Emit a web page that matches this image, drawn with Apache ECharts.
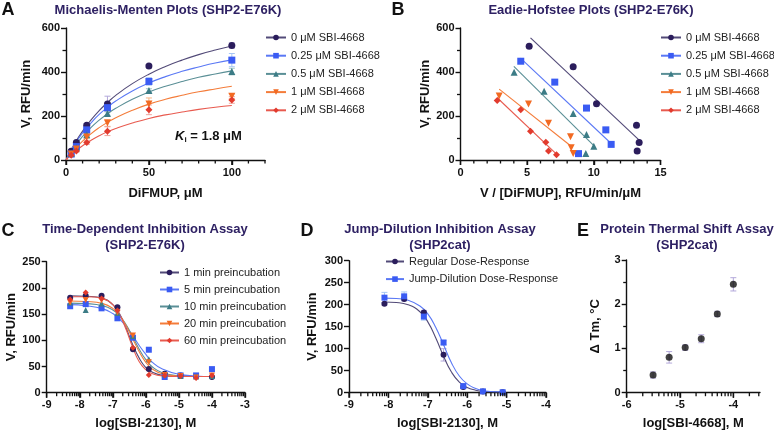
<!DOCTYPE html>
<html><head><meta charset="utf-8">
<script src="https://cdn.jsdelivr.net/npm/echarts@6/dist/echarts.min.js"></script>
<style>html,body{margin:0;padding:0;background:#fff}#c{width:774px;height:433px}</style>
</head><body><div id="c"></div><script>
// ---------- DATA ----------
// Panel A: Michaelis-Menten
const mmConc = [3.125, 6.25, 12.5, 25, 50, 100];
const mm0   = [40, 80, 158, 255, 427, 521];
const mm025 = [27, 61, 137, 238, 357, 454];
const mm05  = [30, 56, 115, 211, 316, 402];
const mm1   = [27, 50, 105, 168, 255, 290];
const mm2   = [22, 41, 79, 131, 228, 273];
const mm0Err   = [4, 5, 7, 35, 6, 12];
const mm025Err = [4, 5, 6, 12, 17, 30];
const mm05Err  = [3, 4, 6, 8, 8, 15];
const mm1Err   = [3, 4, 8, 15, 27, 10];
const mm2Err   = [3, 5, 8, 20, 22, 15];
const mmFitX = [0, 2, 5, 10, 15, 20, 25, 30, 40, 50, 60, 70, 80, 90, 100];
const mmFit0   = [0, 30, 72, 131, 181, 224, 261, 294, 347, 390, 425, 454, 479, 500, 518];
const mmFit025 = [0, 29, 68, 123, 168, 207, 239, 268, 314, 350, 379, 403, 423, 441, 455];
const mmFit05  = [0, 25, 59, 107, 147, 181, 210, 235, 276, 309, 335, 357, 376, 391, 405];
const mmFit1   = [0, 20, 47, 86, 119, 147, 171, 192, 226, 254, 276, 294, 310, 323, 335];
const mmFit2   = [0, 15, 36, 65, 89, 110, 128, 143, 168, 189, 205, 218, 230, 240, 248];
const inhibLabels = ['0 μM SBI-4668', '0.25 μM SBI-4668', '0.5 μM SBI-4668', '1 μM SBI-4668', '2 μM SBI-4668'];
const mmTicksMajor = [0, 50, 100];
const mmTicksMinor = [10, 20, 30, 40, 60, 70, 80, 90, 110, 120];

// Panel B: Eadie-Hofstee
const ehX0   = [5.15, 8.45, 10.2, 13.2, 13.4, 13.25];
const ehY0   = [517, 424, 256, 158, 80, 41];
const ehX025 = [4.52, 7.07, 9.45, 10.9, 11.3, 8.85];
const ehY025 = [449, 354, 236, 137, 71, 29];
const ehX05  = [4.02, 6.27, 8.45, 9.45, 10.0, 9.4];
const ehY05  = [399, 313, 211, 116, 63, 29];
const ehX1   = [2.9, 5.1, 6.6, 8.25, 8.3, 8.45];
const ehY1   = [291, 255, 167, 106, 56, 30];
const ehX2   = [2.75, 4.52, 5.25, 6.4, 6.6, 7.2];
const ehY2   = [270, 228, 131, 81, 41, 24];
const ehFitX0 = [5.25, 13.4],  ehFitY0 = [555, 90];
const ehFitX025 = [4.5, 11.3], ehFitY025 = [463, 75];
const ehFitX05 = [4.0, 10.0],  ehFitY05 = [426, 65];
const ehFitX1 = [2.9, 8.35],   ehFitY1 = [322, 60];
const ehFitX2 = [2.75, 7.2],   ehFitY2 = [283, 27];
const ehTicksMajor = [0, 5, 10, 15];

// Panel C: time-dependent inhibition
const cLogConc = [-8.29, -7.82, -7.34, -6.86, -6.39, -5.91, -5.43, -4.95, -4.48, -4.0];
const c1  = [181, 185, 185, 163, 83, 45, 36, 33, 32, 30];
const c5  = [165, 169, 161, 142, 105, 82, 30, 33, 33, 45];
const c10 = [172, 158, 170, 152, 108, 64, 35, 32, 31, 32];
const c20 = [172, 177, 176, 153, 109, 58, 34, 32, 29, 33];
const c60 = [178, 191, 180, 157, 86, 34, 33, 32, 28, 33];
const cFitX = [-8.3, -7.8, -7.3, -7.0, -6.8, -6.6, -6.4, -6.2, -6.0, -5.8, -5.5, -5.0, -4.5, -4.0];
const cFit1  = [185, 184, 180, 168, 151, 124, 92, 66, 48, 39, 33, 31, 31, 31];
const cFit5  = [168, 166, 160, 151, 141, 126, 109, 90, 73, 58, 45, 35, 32, 31];
const cFit10 = [171, 170, 166, 158, 147, 130, 107, 83, 63, 49, 38, 32, 31, 31];
const cFit20 = [175, 174, 170, 161, 148, 128, 103, 78, 58, 45, 36, 32, 31, 31];
const cFit60 = [183, 183, 179, 168, 150, 121, 87, 59, 44, 36, 32, 31, 31, 31];
const cLabels = ['1 min preincubation', '5 min preincubation', '10 min preincubation', '20 min preincubation', '60 min preincubation'];
const cTicksMajor = [-9, -8, -7, -6, -5, -4, -3];

// Panel D: jump dilution
const dLogConc = [-8.1, -7.6, -7.1, -6.6, -6.1, -5.6, -5.1];
const dReg  = [202, 213, 182, 86, 13, 3, 1];
const dJump = [216, 219, 173, 114, 15, 3, 1];
const dRegErr  = [3, 4, 5, 14, 4, 2, 1];
const dJumpErr = [12, 10, 8, 5, 4, 2, 1];
const dFitX = [-8.1, -7.8, -7.5, -7.2, -7.0, -6.8, -6.6, -6.4, -6.2, -6.0, -5.8, -5.6, -5.3, -5.1];
const dFitReg  = [206, 205, 200, 184, 161, 125, 83, 47, 24, 12, 6, 3, 2, 1];
const dFitJump = [215, 214, 210, 197, 179, 149, 109, 68, 38, 20, 10, 5, 2, 2];
const dLabels = ['Regular Dose-Response', 'Jump-Dilution Dose-Response'];
const dTicksMajor = [-9, -8, -7, -6, -5, -4];

// Panel E: thermal shift
const eLogConc = [-5.505, -5.204, -4.903, -4.602, -4.301, -4.0];
const eDTm = [0.40, 0.80, 1.02, 1.22, 1.78, 2.45];
const eErr = [0.07, 0.13, 0.06, 0.09, 0.06, 0.15];
const eTicksMajor = [-6, -5, -4];

// ---------- STYLE ----------
const FONT = "'Liberation Sans', Arial, sans-serif";
const TITLE_COLOR = '#2e2163';
const COLS = ['#2b1d5c', '#3a5bf3', '#3c7c86', '#f26a22', '#e23b2e'];
const LINE_COLS = ['#524a78', '#5a78f5', '#5a8f96', '#f47c3a', '#e85a4f'];
const ERR_COLS = ['#b3a8da', '#a6c6f5', '#9fc5c7', '#f5b483', '#f0a39b'];
const SYMS = ['circle', 'rect', 'triangle', 'path://M0,0 L10,0 L5,9 Z', 'diamond'];

// log-decade minor tick positions (log10 of 2..9 within each decade)
function logMinor(a, b) {
  const out = [];
  for (let d = Math.floor(a); d < b; d++) for (let k = 2; k <= 9; k++) {
    const v = d + Math.log10(k); if (v > a && v <= b + 1e-9) out.push(v);
  }
  return out;
}
function linMinor(a, b, step, majorStep) {
  const out = [];
  for (let v = a; v <= b + 1e-9; v += step) { const r = +v.toFixed(6); if (Math.abs(r / majorStep - Math.round(r / majorStep)) > 1e-6) out.push(r); }
  return out;
}

const axisLine = { show: true, onZero: false, lineStyle: { color: '#111', width: 1.4 } };
const labelStyle = { fontFamily: FONT, fontWeight: 'bold', fontSize: 11, color: '#111' };
const nameStyle = { fontFamily: FONT, fontWeight: 'bold', fontSize: 13, color: '#111' };

function xAx(grid, min, max, majors, name, gap) {
  return { type: 'value', gridIndex: grid, position: 'bottom', min, max, name, nameLocation: 'middle', nameGap: gap, nameTextStyle: nameStyle,
    axisLine, splitLine: { show: false },
    axisTick: { show: true, length: 5, customValues: majors, lineStyle: { color: '#111', width: 1.4 } },
    axisLabel: Object.assign({ customValues: majors, margin: 7, formatter: v => String(v) }, labelStyle) };
}
function yAx(grid, min, max, interval, minorSplit, name, gap) {
  return { type: 'value', gridIndex: grid, position: 'left', min, max, interval, name, nameLocation: 'middle', nameGap: gap, nameTextStyle: nameStyle,
    axisLine, splitLine: { show: false },
    axisTick: { show: true, length: 5, lineStyle: { color: '#111', width: 1.4 } },
    minorTick: { show: minorSplit > 0, splitNumber: minorSplit || 5, length: 3.5, lineStyle: { color: '#111', width: 1.3 } },
    minorSplitLine: { show: false },
    axisLabel: Object.assign({ margin: 6 }, labelStyle) };
}

// tick marks under an x axis, placed through the axis scale (major = long, minor = short)
function tickSeries(idx, yBase, majors, minors) {
  return { type: 'custom', xAxisIndex: idx, yAxisIndex: idx, silent: true, clip: false, z: 5,
    encode: { x: 0, y: 1 },
    data: majors.map(v => [v, yBase, 1]).concat(minors.map(v => [v, yBase, 0])),
    renderItem(params, api) {
      const p = api.coord([api.value(0), api.value(1)]);
      const len = api.value(2) ? 5 : 3.5;
      return { type: 'line', shape: { x1: p[0], y1: p[1], x2: p[0], y2: p[1] + len }, style: { stroke: '#111', lineWidth: 1.3 } };
    } };
}

function errSeries(xi, yi, xs, ys, es, color, capW) {
  return { type: 'custom', xAxisIndex: xi, yAxisIndex: yi, silent: true, z: 1,
    encode: { x: 0, y: [1, 2] },
    data: xs.map((x, i) => [x, ys[i] - es[i], ys[i] + es[i]]),
    renderItem(params, api) {
      const x = api.value(0);
      const lo = api.coord([x, api.value(1)]);
      const hi = api.coord([x, api.value(2)]);
      const st = { stroke: color, lineWidth: 1 };
      return { type: 'group', children: [
        { type: 'line', shape: { x1: lo[0], y1: lo[1], x2: hi[0], y2: hi[1] }, style: st },
        { type: 'line', shape: { x1: lo[0] - capW, y1: lo[1], x2: lo[0] + capW, y2: lo[1] }, style: st },
        { type: 'line', shape: { x1: hi[0] - capW, y1: hi[1], x2: hi[0] + capW, y2: hi[1] }, style: st }
      ] };
    } };
}
function zip(a, b) { return a.map((v, i) => [v, b[i]]); }
function fitLine(name, xi, yi, xs, ys, ci, sym, symSize) {
  return { type: 'line', name, xAxisIndex: xi, yAxisIndex: yi, data: zip(xs, ys), smooth: 0.5,
    showSymbol: false, symbol: sym, symbolSize: symSize, z: 2, silent: true,
    lineStyle: { color: LINE_COLS[ci], width: 1.1 }, itemStyle: { color: COLS[ci] } };
}
function pts(xi, yi, xs, ys, ci, sym, size) {
  return { type: 'scatter', xAxisIndex: xi, yAxisIndex: yi, data: zip(xs, ys), symbol: sym, symbolSize: size,
    itemStyle: { color: COLS[ci], opacity: 1 }, z: 3, silent: true };
}

// ---------- BUILD ----------
const grids = [
  { left: 66, top: 28, width: 199, height: 132 },
  { left: 460.5, top: 28, width: 200, height: 132 },
  { left: 46.7, top: 261.7, width: 198.3, height: 131 },
  { left: 349, top: 260.7, width: 197, height: 132 },
  { left: 626.7, top: 260, width: 133.3, height: 132.7 }
].map(g => Object.assign({ containLabel: false, outerBoundsMode: 'none' }, g));

const xAxis = [
  xAx(0, 0, 120, mmTicksMajor, 'DiFMUP, μM', 27),
  xAx(1, 0, 15, ehTicksMajor, 'V / [DiFMUP], RFU/min/μM', 27),
  xAx(2, -9, -3, cTicksMajor, 'log[SBI-2130], M', 24),
  xAx(3, -9, -4, dTicksMajor, 'log[SBI-2130], M', 24),
  xAx(4, -6, -3.5, eTicksMajor, 'log[SBI-4668], M', 24)
];
const yAxis = [
  yAx(0, 0, 600, 200, 2, 'V, RFU/min', 33),
  yAx(1, 0, 600, 200, 2, 'V, RFU/min', 21),
  yAx(2, 0, 250, 50, 0, 'V, RFU/min', 29),
  yAx(3, 0, 300, 50, 0, 'V, RFU/min', 30),
  yAx(4, 0, 3, 1, 2, 'Δ Tm, °C', 25)
];

const series = [];
// A
const mmY = [mm0, mm025, mm05, mm1, mm2];
const mmE = [mm0Err, mm025Err, mm05Err, mm1Err, mm2Err];
const mmF = [mmFit0, mmFit025, mmFit05, mmFit1, mmFit2];
for (let i = 0; i < 5; i++) {
  series.push(errSeries(0, 0, mmConc, mmY[i], mmE[i], ERR_COLS[i], 3));
  series.push(fitLine(inhibLabels[i], 0, 0, mmFitX, mmF[i], i, SYMS[i], 7));
  series.push(pts(0, 0, mmConc, mmY[i], i, SYMS[i], 7));
}
// B
const ehXs = [ehX0, ehX025, ehX05, ehX1, ehX2];
const ehYs = [ehY0, ehY025, ehY05, ehY1, ehY2];
const ehFX = [ehFitX0, ehFitX025, ehFitX05, ehFitX1, ehFitX2];
const ehFY = [ehFitY0, ehFitY025, ehFitY05, ehFitY1, ehFitY2];
for (let i = 0; i < 5; i++) {
  const s = fitLine(inhibLabels[i], 1, 1, ehFX[i], ehFY[i], i, SYMS[i], 7);
  s.smooth = false;
  series.push(s);
  series.push(pts(1, 1, ehXs[i], ehYs[i], i, SYMS[i], 7));
}
// C
const cY = [c1, c5, c10, c20, c60];
const cF = [cFit1, cFit5, cFit10, cFit20, cFit60];
for (let i = 0; i < 5; i++) {
  series.push(fitLine(cLabels[i], 2, 2, cFitX, cF[i], i, SYMS[i], 6));
  series.push(pts(2, 2, cLogConc, cY[i], i, SYMS[i], 6));
}
// D
series.push(errSeries(3, 3, dLogConc, dReg, dRegErr, ERR_COLS[0], 3));
series.push(errSeries(3, 3, dLogConc, dJump, dJumpErr, ERR_COLS[1], 3));
series.push(fitLine(dLabels[0], 3, 3, dFitX, dFitReg, 0, 'circle', 6));
series.push(fitLine(dLabels[1], 3, 3, dFitX, dFitJump, 1, 'rect', 6));
series.push(pts(3, 3, dLogConc, dReg, 0, 'circle', 6));
series.push(pts(3, 3, dLogConc, dJump, 1, 'rect', 6));
// E
series.push(errSeries(4, 4, eLogConc, eDTm, eErr, '#b3a8da', 3));
series.push({ type: 'scatter', xAxisIndex: 4, yAxisIndex: 4, data: zip(eLogConc, eDTm), symbol: 'circle', symbolSize: 7,
  itemStyle: { color: '#111' }, z: 3, silent: true });
// x-axis tick marks (major + minor)
series.push(tickSeries(0, 0, mmTicksMajor, mmTicksMinor));
series.push(tickSeries(1, 0, ehTicksMajor, linMinor(0, 15, 1, 5)));
series.push(tickSeries(2, 0, cTicksMajor, logMinor(-9, -3)));
series.push(tickSeries(3, 0, dTicksMajor, logMinor(-9, -4)));
series.push(tickSeries(4, 0, eTicksMajor, logMinor(-6, -3.5)));

const legText = { fontFamily: FONT, fontSize: 11, color: '#222' };
function legend(data, left, top, iw, gap) {
  return { data, left, top, orient: 'vertical', itemWidth: iw, itemHeight: 7, itemGap: gap, textStyle: legText,
    selectedMode: false, padding: 0 };
}

const titleStyle = { fontFamily: FONT, fontWeight: 'bold', fontSize: 13, color: TITLE_COLOR, lineHeight: 16 };
const letterStyle = { fontFamily: FONT, fontWeight: 'bold', fontSize: 18, color: '#111' };
function title(text, left, top, style) { return { text, left, top, textAlign: 'center', textStyle: style, padding: 0 }; }

const option = {
  animation: false,
  textStyle: { fontFamily: FONT },
  grid: grids, xAxis, yAxis, series,
  legend: [
    legend(inhibLabels, 265, 32, 20, 7.2),
    legend(inhibLabels, 660, 32, 20, 7.2),
    legend(cLabels, 159, 267, 19, 6),
    legend(dLabels, 385, 256, 18, 6.6)
  ],
  title: [
    title('Michaelis-Menten Plots (SHP2-E76K)', 168, 2, titleStyle),
    title('Eadie-Hofstee Plots (SHP2-E76K)', 591, 2, titleStyle),
    title('Time-Dependent Inhibition Assay\n(SHP2-E76K)', 145, 221, titleStyle),
    title('Jump-Dilution Inhibition Assay\n(SHP2cat)', 440, 221, titleStyle),
    title('Protein Thermal Shift Assay\n(SHP2cat)', 687, 221, titleStyle),
    title('A', 8, 1, letterStyle),
    title('B', 398, 1, letterStyle),
    title('C', 8, 222, letterStyle),
    title('D', 307, 222, letterStyle),
    title('E', 583, 222, letterStyle)
  ],
  graphic: [{
    type: 'text', left: 175, top: 130,
    style: { text: '{k|K}{i|i}{t| = 1.8 μM}', fill: '#111',
      rich: { k: { fontFamily: FONT, fontWeight: 'bold', fontStyle: 'italic', fontSize: 13 },
              i: { fontFamily: FONT, fontWeight: 'bold', fontSize: 8, verticalAlign: 'bottom', padding: [6, 0, 0, 0] },
              t: { fontFamily: FONT, fontWeight: 'bold', fontSize: 13 } } }
  }]
};
const chart = echarts.init(document.getElementById('c'), null, { renderer: 'canvas' });
chart.setOption(option);
</script></body></html>
